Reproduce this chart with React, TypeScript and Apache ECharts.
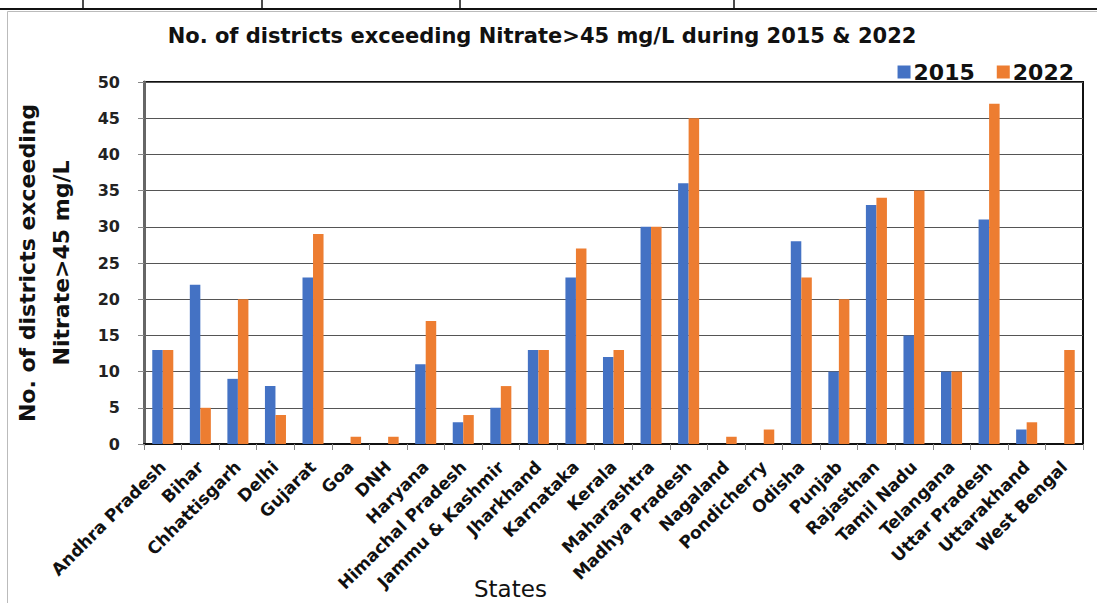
import React, { useEffect, useRef } from "react";
import * as echarts from "echarts";

const states = [
  "Andhra Pradesh", "Bihar", "Chhattisgarh", "Delhi", "Gujarat", "Goa", "DNH",
  "Haryana", "Himachal Pradesh", "Jammu & Kashmir", "Jharkhand", "Karnataka",
  "Kerala", "Maharashtra", "Madhya Pradesh", "Nagaland", "Pondicherry", "Odisha",
  "Punjab", "Rajasthan", "Tamil Nadu", "Telangana", "Uttar Pradesh", "Uttarakhand",
  "West Bengal",
];
const values2015 = [13, 22, 9, 8, 23, 0, 0, 11, 3, 5, 13, 23, 12, 30, 36, 0, 0, 28, 10, 33, 15, 10, 31, 2, 0];
const values2022 = [13, 5, 20, 4, 29, 1, 1, 17, 4, 8, 13, 27, 13, 30, 45, 1, 2, 23, 20, 34, 35, 10, 47, 3, 13];
const seriesNames = ["2015", "2022"];
const titleText = "No. of districts exceeding Nitrate>45 mg/L during 2015 & 2022";
const yAxisName = "No. of districts exceeding\nNitrate>45 mg/L";
const xAxisName = "States";

const FONT = "DejaVu Sans";

export default function App() {
  const ref = useRef<HTMLDivElement>(null);
  useEffect(() => {
    if (!ref.current) return;
    const chart = echarts.init(ref.current, undefined, { renderer: "svg" });
    chart.setOption({
      animation: false,
      backgroundColor: "#fff",
      title: {
        text: titleText,
        left: 537,
        top: 20,
        textAlign: "center",
        textStyle: { fontFamily: FONT, fontSize: 21, fontWeight: "bold", color: "#111" },
      },
      legend: {
        data: seriesNames,
        right: 18,
        top: 56,
        itemWidth: 13,
        itemHeight: 13,
        itemGap: 22,
        icon: "rect",
        textStyle: { fontFamily: FONT, fontSize: 22, fontWeight: "bold", color: "#111", padding: [0, 0, 0, -2] },
      },
      grid: {
        left: 144,
        right: 14,
        top: 82,
        bottom: 159,
        show: true,
        borderColor: "#111",
        borderWidth: 2,
        backgroundColor: "transparent",
      },
      xAxis: {
        type: "category",
        data: states,
        axisLine: { lineStyle: { color: "#111", width: 2 } },
        axisTick: { show: true, length: 6, lineStyle: { color: "#888", width: 1 } },
        axisLabel: {
          rotate: 45,
          interval: 0,
          margin: 20,
          fontFamily: FONT,
          fontSize: 17,
          fontWeight: "bold",
          color: "#111",
        },
      },
      yAxis: {
        type: "value",
        min: 0,
        max: 50,
        interval: 5,
        name: yAxisName,
        nameLocation: "middle",
        nameGap: 66,
        nameTextStyle: { fontFamily: FONT, fontSize: 22, fontWeight: "bold", color: "#111", lineHeight: 34 },
        axisLine: { show: true, lineStyle: { color: "#666", width: 3 } },
        axisTick: { show: true, length: 6, lineStyle: { color: "#888", width: 1 } },
        axisLabel: { fontFamily: FONT, fontSize: 16, fontWeight: "bold", color: "#222", margin: 24 },
        splitLine: { lineStyle: { color: "#555", width: 1 } },
      },
      series: [
        {
          name: seriesNames[0],
          type: "bar",
          data: values2015,
          itemStyle: { color: "#4472C4" },
          barGap: "0%",
          barCategoryGap: "44%",
        },
        {
          name: seriesNames[1],
          type: "bar",
          data: values2022,
          itemStyle: { color: "#ED7D31" },
          barGap: "0%",
          barCategoryGap: "44%",
        },
      ],
      graphic: [
        { type: "line", shape: { x1: 0, y1: 9, x2: 1097, y2: 9 }, style: { stroke: "#111", lineWidth: 2 } },
        { type: "line", shape: { x1: 83, y1: 0, x2: 83, y2: 9 }, style: { stroke: "#111", lineWidth: 1.5 } },
        { type: "line", shape: { x1: 262, y1: 0, x2: 262, y2: 9 }, style: { stroke: "#111", lineWidth: 1.5 } },
        { type: "line", shape: { x1: 460, y1: 0, x2: 460, y2: 9 }, style: { stroke: "#111", lineWidth: 1.5 } },
        { type: "line", shape: { x1: 734, y1: 0, x2: 734, y2: 9 }, style: { stroke: "#111", lineWidth: 1.5 } },
        { type: "rect", shape: { x: 7.5, y: 11.5, width: 1100, height: 600 }, style: { fill: "none", stroke: "#bbb", lineWidth: 1 }, silent: true },
        {
          type: "text",
          left: 474,
          top: 577,
          style: { text: xAxisName, fontFamily: FONT, fontSize: 23, fontWeight: "normal", fill: "#111" },
        },
      ],
    });
    return () => chart.dispose();
  }, []);
  return (
    <div
      ref={ref}
      style={{ position: "fixed", left: 0, top: 0, width: 1097, height: 603 }}
    />
  );
}
